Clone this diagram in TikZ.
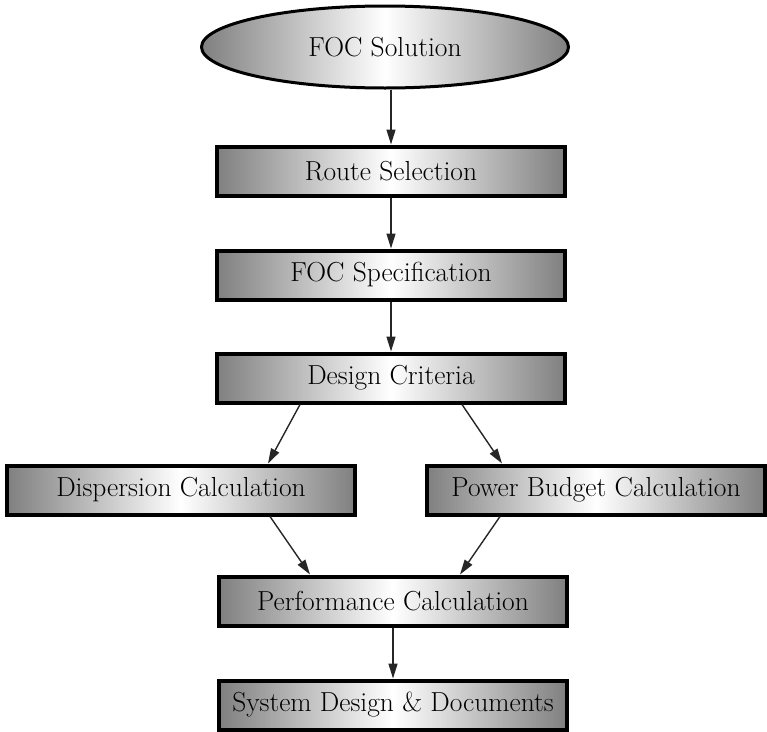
\documentclass[tikz,border=0pt]{standalone}
\usetikzlibrary{arrows.meta,shapes.geometric}
\begin{document}
\begin{tikzpicture}[x=1pt,y=-1pt,
  every node/.style={font=\fontsize{27.5}{32}\selectfont, text=black},
  stepbox/.style={rectangle, draw=black, line width=4pt, minimum width=348pt,
    minimum height=49pt, inner sep=0pt,
    left color=black!50, right color=black!50, middle color=white},
  startbox/.style={ellipse, draw=black, line width=3pt, minimum width=367pt,
    minimum height=82pt, inner sep=0pt,
    left color=black!50, right color=black!50, middle color=white},
  flow/.style={draw=black!85, line width=1.4pt, -{Triangle[length=15pt,width=9pt]}}]
  \useasboundingbox (0,0) rectangle (767,731);

  \node[startbox] (foc)  at (385,47)  {FOC Solution};
  \node[stepbox]  (rs)   at (391,171) {Route Selection};
  \node[stepbox]  (spec) at (391,275) {FOC Specification};
  \node[stepbox]  (dc)   at (391,378) {Design Criteria};
  \node[stepbox]  (disp) at (181,490) {Dispersion Calculation};
  \node[stepbox, minimum width=338pt] (pb) at (596,490) {Power Budget Calculation};
  \node[stepbox]  (perf) at (393,601) {Performance Calculation};
  \node[stepbox]  (sys)  at (393,705) {System Design \& Documents};

  \draw[flow] (foc.south -| rs.north) -- (rs.north);
  \draw[flow] (rs.south) -- (spec.north);
  \draw[flow] (spec.south) -- (dc.north);
  \draw[flow] ([xshift=-91pt]dc.south) -- ([xshift=87pt]disp.north);
  \draw[flow] ([xshift=71pt]dc.south) -- ([xshift=-94pt]pb.north);
  \draw[flow] ([xshift=89pt]disp.south) -- ([xshift=-83pt]perf.north);
  \draw[flow] ([xshift=-96pt]pb.south) -- ([xshift=67pt]perf.north);
  \draw[flow] (perf.south) -- (sys.north);
\end{tikzpicture}
\end{document}
